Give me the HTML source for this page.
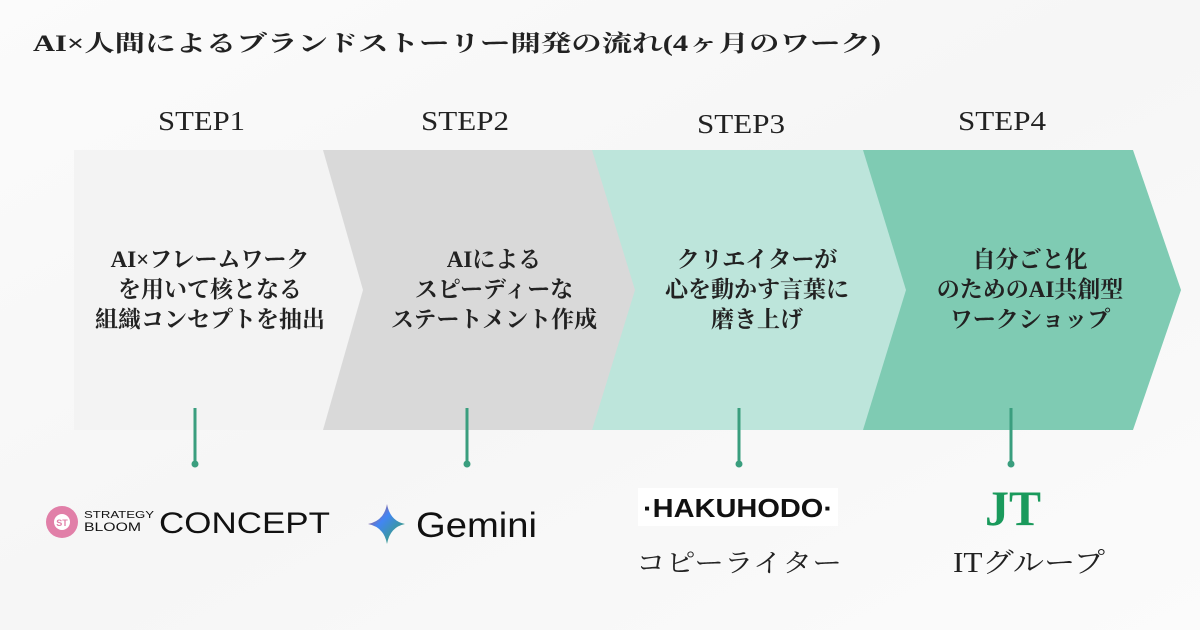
<!DOCTYPE html>
<html><head><meta charset="utf-8"><style>
html,body{margin:0;padding:0;background:#fafafa}
svg{display:block}
.s{font-family:"Liberation Serif","Noto Serif CJK SC",serif}
.b{font-family:"Liberation Serif","Noto Serif CJK SC",serif;font-weight:bold;font-size:23px;fill:#222}
</style></head><body>
<svg width="1200" height="630" viewBox="0 0 1200 630" xmlns="http://www.w3.org/2000/svg">
<defs><linearGradient id="bg" x1="0" y1="0" x2="1" y2="1"><stop offset="0" stop-color="#fbfbfb"/><stop offset="0.5" stop-color="#f6f6f6"/><stop offset="1" stop-color="#fbfbfb"/></linearGradient>
<linearGradient id="gm" x1="0" y1="0" x2="1" y2="1"><stop offset="0" stop-color="#e8453c"/><stop offset="0.4" stop-color="#4285f4"/><stop offset="1" stop-color="#34a853"/></linearGradient></defs>
<rect width="1200" height="630" fill="url(#bg)"/>
<text x="33" y="51" class="s" font-size="23" font-weight="bold" fill="#222" textLength="848" lengthAdjust="spacingAndGlyphs">AI×人間によるブランドストーリー開発の流れ(4ヶ月のワーク)</text>
<g class="s" font-size="27" fill="#222">
<text x="158" y="130" textLength="87" lengthAdjust="spacingAndGlyphs">STEP1</text>
<text x="421" y="130" textLength="88" lengthAdjust="spacingAndGlyphs">STEP2</text>
<text x="697" y="133" textLength="88" lengthAdjust="spacingAndGlyphs">STEP3</text>
<text x="958" y="130" textLength="88" lengthAdjust="spacingAndGlyphs">STEP4</text>
</g>
<polygon points="863,150 1133,150 1181,290 1133,430 863,430" fill="#7fcbb3"/>
<polygon points="592,150 863,150 906,290 863,430 592,430" fill="#bde5db"/>
<polygon points="323,150 592,150 635,290 592,430 323,430" fill="#d9d9d9"/>
<polygon points="74,150 323,150 363,290 323,430 74,430" fill="#f3f3f3"/>
<g class="b" text-anchor="middle">
<text x="210" y="267">AI×フレームワーク</text>
<text x="210" y="297">を用いて核となる</text>
<text x="210" y="327">組織コンセプトを抽出</text>
<text x="494" y="267">AIによる</text>
<text x="494" y="297">スピーディーな</text>
<text x="494" y="327">ステートメント作成</text>
<text x="757" y="267">クリエイターが</text>
<text x="757" y="297">心を動かす言葉に</text>
<text x="757" y="327">磨き上げ</text>
<text x="1030" y="267">自分ごと化</text>
<text x="1030" y="297">のためのAI共創型</text>
<text x="1030" y="327">ワークショップ</text>
</g>
<g stroke="#3a9e7e" stroke-width="3" fill="#3a9e7e">
<line x1="195" y1="408" x2="195" y2="463"/><circle cx="195" cy="464" r="3.5" stroke="none"/>
<line x1="467" y1="408" x2="467" y2="463"/><circle cx="467" cy="464" r="3.5" stroke="none"/>
<line x1="739" y1="408" x2="739" y2="463"/><circle cx="739" cy="464" r="3.5" stroke="none"/>
<line x1="1011" y1="408" x2="1011" y2="463"/><circle cx="1011" cy="464" r="3.5" stroke="none"/>
</g>
<circle cx="62" cy="522" r="16" fill="#e17fa8"/>
<circle cx="62" cy="522" r="8" fill="#fff"/>
<text x="62" y="526" font-family="Liberation Sans,sans-serif" font-size="9" font-weight="bold" fill="#e17fa8" text-anchor="middle">ST</text>
<text x="84" y="518" font-family="Liberation Sans,sans-serif" font-size="10" fill="#111" textLength="70" lengthAdjust="spacingAndGlyphs">STRATEGY</text>
<text x="84" y="531" font-family="Liberation Sans,sans-serif" font-size="12" fill="#111" textLength="57" lengthAdjust="spacingAndGlyphs">BLOOM</text>
<text x="159" y="533" font-family="Liberation Sans,sans-serif" font-size="30" fill="#111" textLength="171" lengthAdjust="spacingAndGlyphs">CONCEPT</text>
<path d="M387,504 Q390,521 405,524 Q390,527 387,544 Q384,527 368,524 Q384,521 387,504Z" fill="url(#gm)"/>
<text x="416" y="537" font-family="Liberation Sans,sans-serif" font-size="35" fill="#111" textLength="121" lengthAdjust="spacingAndGlyphs">Gemini</text>
<rect x="638" y="488" width="200" height="38" fill="#fff"/>
<text x="738" y="517" text-anchor="middle" font-family="Liberation Sans,sans-serif" font-weight="bold" font-size="26" fill="#111" textLength="190" lengthAdjust="spacingAndGlyphs">·HAKUHODO·</text>
<text x="739" y="572" text-anchor="middle" class="s" font-size="26" fill="#222" textLength="206" lengthAdjust="spacingAndGlyphs">コピーライター</text>
<text x="1013" y="525" text-anchor="middle" font-family="Liberation Serif,serif" font-weight="bold" font-size="50" fill="#1a9a5c" textLength="56" lengthAdjust="spacingAndGlyphs">JT</text>
<text x="1029" y="572" text-anchor="middle" class="s" font-size="28" fill="#222" textLength="152" lengthAdjust="spacingAndGlyphs">ITグループ</text>
</svg>
</body></html>
